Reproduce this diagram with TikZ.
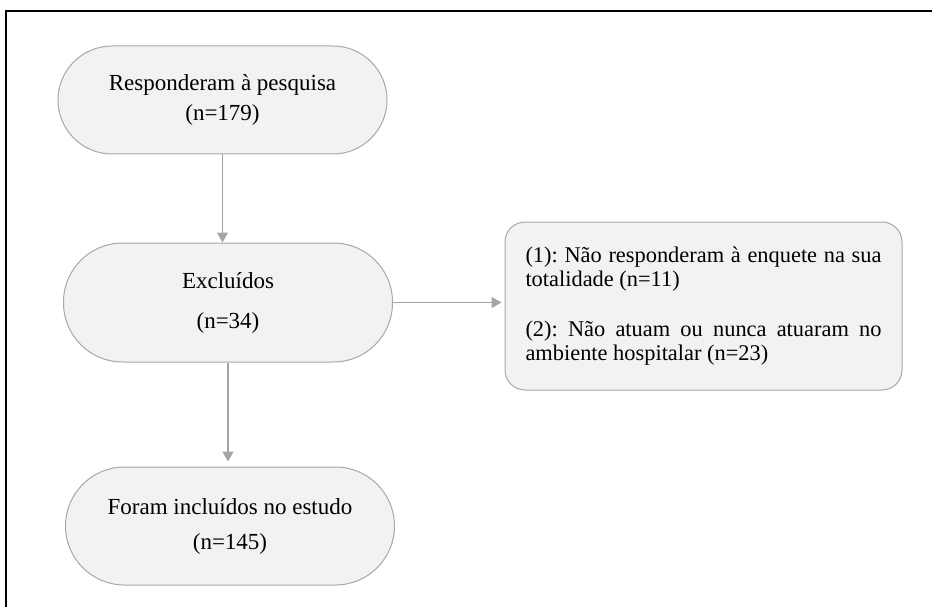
\documentclass[tikz,border=0pt]{standalone}
\usepackage{fontspec}
\setmainfont{Liberation Serif}
\usetikzlibrary{arrows.meta}
\definecolor{boxfill}{HTML}{F2F2F2}
\definecolor{boxline}{HTML}{A8A8A8}
\definecolor{arrowgray}{HTML}{A5A5A5}
\frenchspacing
\hyphenpenalty=10000
\exhyphenpenalty=10000
\tikzset{
    pill/.style={draw=boxline, fill=boxfill, line width=1pt, minimum width=329pt,
        inner sep=0pt, align=center, font=\fontsize{23}{30}\selectfont},
    notebox/.style={draw=boxline, fill=boxfill, line width=1pt, rounded corners=20pt,
        minimum width=397pt, minimum height=168pt, text width=356pt, align=justify,
        font=\fontsize{22.4}{24}\selectfont},
    link/.style={draw=arrowgray, line width=1.3pt, -{Triangle[width=11pt,length=10pt]}}
}
\begin{document}
\begin{tikzpicture}[x=1pt,y=-1pt]
\useasboundingbox (0,0) rectangle (932,607);
\draw[line width=2pt] (6,612) -- (6,11) -- (938,11);

\foreach \name/\x/\y/\h/\r/\txt in {resp/222.5/100/108/54/{Responderam à pesquisa\\(n=179)},
    excl/228/302.5/119/59/{Excluídos\\[10pt](n=34)},
    incl/230/526/118/59/{Foram incluídos no estudo\\[5pt](n=145)}}
{
    \node[pill, minimum height=\h pt, rounded corners=\r pt] (\name) at (\x,\y) {\txt};
}

\node[notebox] (motivos) at (703.5,306) {(1): Não responderam à enquete na sua totalidade (n=11)\par\vspace{26pt}%
    (2): Não atuam ou nunca atuaram no \mbox{ambiente} hospitalar (n=23)};

\draw[link] (resp.south) -- (resp.south |- excl.north);
\draw[link, shorten >=5pt] (excl.south) -- (excl.south |- incl.north);
\draw[link, shorten >=3pt] (excl.east) -- (excl.east -| motivos.west);
\end{tikzpicture}
\end{document}
